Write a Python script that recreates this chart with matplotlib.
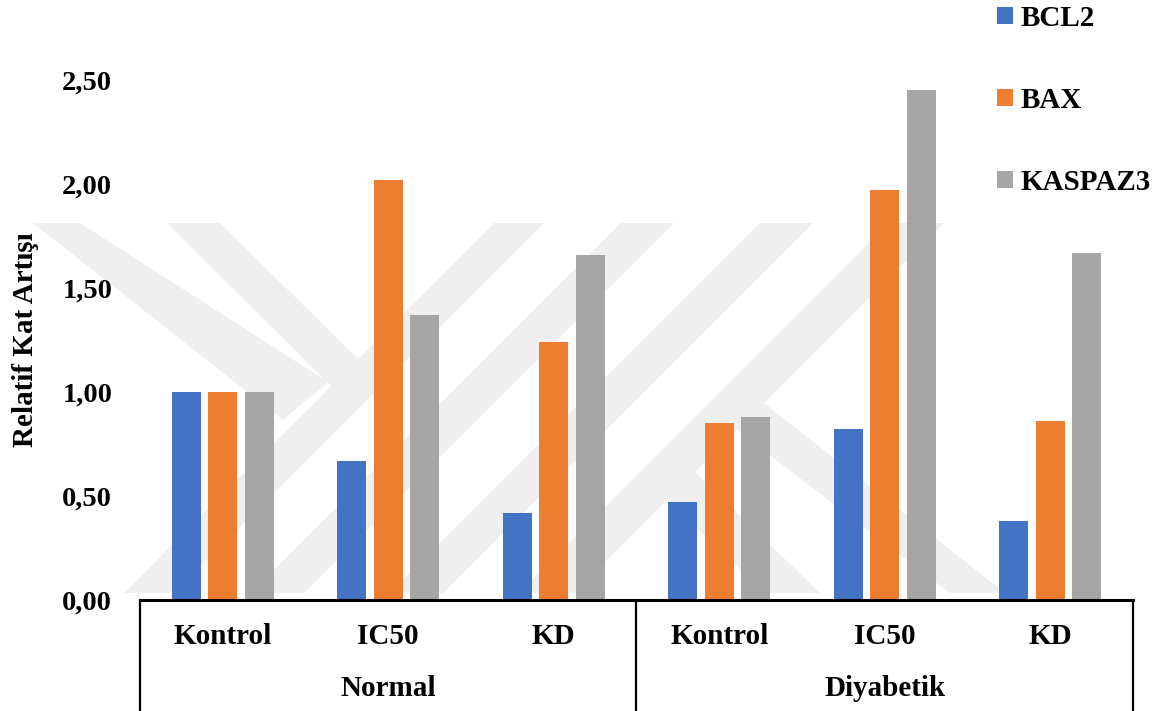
import matplotlib
matplotlib.use("Agg")
import matplotlib.pyplot as plt
from matplotlib.patches import Polygon
from matplotlib.ticker import FuncFormatter
import numpy as np

# Data
groups = ["Normal", "Diyabetik"]
categories = ["Kontrol", "IC50", "KD", "Kontrol", "IC50", "KD"]
series = ["BCL2", "BAX", "KASPAZ3"]
bcl2 = [1.00, 0.67, 0.42, 0.47, 0.82, 0.38]
bax = [1.00, 2.02, 1.24, 0.85, 1.97, 0.86]
kaspaz3 = [1.00, 1.37, 1.66, 0.88, 2.45, 1.67]
colors = ["#4472C4", "#ED7D31", "#A5A5A5"]
y_ticks = [0.0, 0.5, 1.0, 1.5, 2.0, 2.5]
y_label = "Relatif Kat Artışı"

W, H = 1175, 711
plt.rcParams["font.family"] = ["Liberation Serif", "DejaVu Serif"]
plt.rcParams["font.weight"] = "bold"

fig = plt.figure(figsize=(W / 100, H / 100), dpi=100)
fig.patch.set_facecolor("white")

# Background watermark bands (pixel coordinates, origin top-left)
wm_bands = [
    [(33, 223), (80, 223), (328, 382), (283, 420)],
    [(167, 223), (220, 223), (358, 359), (331, 386)],
    [(494, 223), (544, 223), (174, 593), (124, 593)],
    [(621, 223), (674, 223), (304, 593), (251, 593)],
    [(760, 223), (813, 223), (443, 593), (390, 593)],
    [(889, 223), (944, 223), (574, 593), (519, 593)],
    [(695, 472), (820, 593), (765, 593), (667, 500)],
    [(764, 403), (1005, 593), (950, 593), (737, 430)],
]
for band in wm_bands:
    pts = [(x / W, 1 - y / H) for x, y in band]
    fig.patches.append(Polygon(pts, closed=True, transform=fig.transFigure,
                               facecolor="#efefef", edgecolor="none", zorder=-1))

left, right = 140 / W, 1133 / W
bottom, top = (H - 600) / H, (H - 80) / H
ax = fig.add_axes([left, bottom, right - left, top - bottom])
ax.set_facecolor("none")

x = np.arange(len(categories))
width = 0.175
step = 0.22
for i, (vals, name) in enumerate(zip([bcl2, bax, kaspaz3], series)):
    ax.bar(x + (i - 1) * step, vals, width, color=colors[i], label=name, zorder=2)

ax.set_xlim(-0.5, len(categories) - 0.5)
ax.set_ylim(0, 2.5)
ax.set_yticks(y_ticks)
ax.yaxis.set_major_formatter(FuncFormatter(lambda v, p: f"{v:.2f}".replace(".", ",")))
ax.tick_params(axis="y", length=0, pad=20, labelsize=20.5)
for lab in ax.get_yticklabels():
    lab.set_fontweight("bold")
ax.set_xticks([])

for s in ["top", "right", "left"]:
    ax.spines[s].set_visible(False)
ax.spines["bottom"].set_linewidth(2.2)
ax.spines["bottom"].set_color("black")

ax.set_ylabel(y_label, fontsize=21, fontweight="bold", labelpad=17)

# Two-level category axis
axh = 600 - 80
tr = ax.get_xaxis_transform()
for xi, cat in zip(x, categories):
    ax.text(xi, -36 / axh, cat, transform=tr, ha="center", va="center",
            fontsize=21, fontweight="bold", clip_on=False)
n_per = len(categories) // len(groups)
for gi, g in enumerate(groups):
    ax.text(gi * n_per + (n_per - 1) / 2, -89 / axh, g, transform=tr,
            ha="center", va="center", fontsize=21, fontweight="bold", clip_on=False)
for xb in [-0.5, n_per - 0.5, len(categories) - 0.5]:
    ax.plot([xb, xb], [0, -0.3], transform=tr, color="black", lw=1.6,
            clip_on=False, solid_capstyle="butt")

leg = fig.legend(loc="upper left", bbox_to_anchor=(997 / W, 1 - 5 / H), frameon=False,
                 fontsize=21, handlelength=0.55, handleheight=0.55,
                 handletextpad=0.25, labelspacing=1.88, borderpad=0.0,
                 borderaxespad=0.0)
for t in leg.get_texts():
    t.set_fontweight("bold")

fig.savefig("out.png", dpi=100)
